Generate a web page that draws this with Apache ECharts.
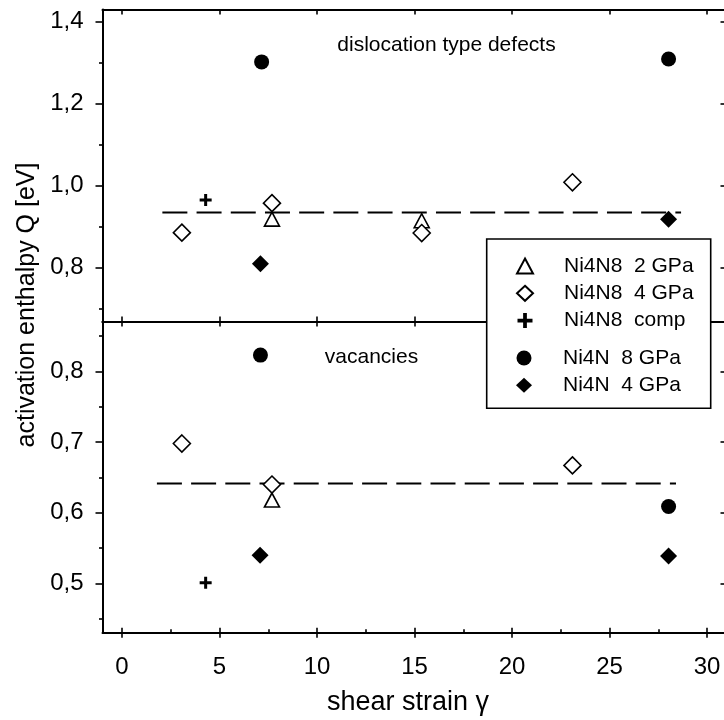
<!DOCTYPE html>
<html>
<head>
<meta charset="utf-8">
<script src="https://cdn.jsdelivr.net/npm/echarts@6/dist/echarts.min.js"></script>
<style>
  html, body { margin: 0; padding: 0; background: #fff; }
  #chart { width: 724px; height: 720px; }
</style>
</head>
<body>
<div id="chart"></div>
<script>
// ---- axis ticks ----
const strainTicks = [0, 5, 10, 15, 20, 25, 30];
const strainMinorTicks = [2.5, 7.5, 12.5, 17.5, 22.5, 27.5];
const dislTicks = [0.8, 1.0, 1.2, 1.4];
const dislMinorTicks = [0.7, 0.9, 1.1, 1.3];
const vacTicks = [0.5, 0.6, 0.7, 0.8];
const vacMinorTicks = [0.45, 0.55, 0.65, 0.75, 0.85];

// ---- sample names ----
const sampleNames = ['Ni4N8  2 GPa', 'Ni4N8  4 GPa', 'Ni4N8  comp', 'Ni4N  8 GPa', 'Ni4N  4 GPa'];

// ---- dislocation type defects: [shear strain, Q (eV)] ----
const dislNi4N8_2GPa = [[7.69, 0.918], [15.37, 0.914]];
const dislNi4N8_4GPa = [[3.07, 0.885], [7.69, 0.957], [15.37, 0.884], [23.1, 1.008]];
const dislNi4N8_comp = [[4.29, 0.965]];
const dislNi4N_8GPa = [[7.16, 1.302], [28.03, 1.309]];
const dislNi4N_4GPa = [[7.1, 0.809], [28.03, 0.918]];
const dislMean = [[2.07, 0.934], [28.67, 0.934]];

// ---- vacancies: [shear strain, Q (eV)] ----
const vacNi4N8_2GPa = [[7.69, 0.618]];
const vacNi4N8_4GPa = [[3.07, 0.698], [7.69, 0.640], [23.1, 0.667]];
const vacNi4N8_comp = [[4.29, 0.501]];
const vacNi4N_8GPa = [[7.1, 0.823], [28.03, 0.609]];
const vacNi4N_4GPa = [[7.08, 0.540], [28.03, 0.539]];
const vacMean = [[1.79, 0.6415], [28.41, 0.6415]];

const FONT = '"Liberation Sans", Arial, Helvetica, sans-serif';
const BLACK = '#000';
const PLUS = 'path://M4.5,0H7.5V4.5H12V7.5H7.5V12H4.5V7.5H0V4.5H4.5Z';
const comma = v => v.toFixed(1).replace('.', ',');

// symbol look of each sample
const markStyles = [
  { symbol: 'triangle', symbolSize: [15, 14], itemStyle: { color: '#fff', borderColor: BLACK, borderWidth: 1.6, opacity: 1 } },
  { symbol: 'diamond', symbolSize: [17, 17], itemStyle: { color: '#fff', borderColor: BLACK, borderWidth: 1.6, opacity: 1 } },
  { symbol: PLUS, symbolSize: 12, itemStyle: { color: BLACK, opacity: 1 } },
  { symbol: 'circle', symbolSize: 15, itemStyle: { color: BLACK, opacity: 1 } },
  { symbol: 'diamond', symbolSize: [17, 17], itemStyle: { color: BLACK, opacity: 1 } }
];

const xRange = { type: 'value', min: -1, max: 31, splitLine: { show: false } };
const axisLineOn = { show: true, onZero: false, lineStyle: { color: BLACK, width: 2 } };
const axisLineOff = { show: false, onZero: false };
const noLabel = { show: false };

function xAx(gridIndex, position, line, tick, label) {
  return Object.assign({}, xRange, {
    gridIndex, position,
    axisLine: line,
    axisTick: tick,
    axisLabel: label || noLabel
  });
}
function yAx(gridIndex, position, min, max, line, tick, label) {
  return {
    type: 'value', gridIndex, position, min, max,
    splitLine: { show: false },
    axisLine: line,
    axisTick: tick,
    axisLabel: label || noLabel
  };
}
const tickStyle = { color: BLACK, width: 1.6 };

const xLabel = {
  show: true, customValues: strainTicks, margin: 23,
  fontSize: 24, fontFamily: FONT, color: BLACK,
  formatter: v => String(v)
};

const xAxes = [
  // upper panel
  xAx(0, 'bottom', axisLineOn, { show: true, inside: true, length: 5, customValues: strainTicks, lineStyle: tickStyle }),
  xAx(0, 'top', axisLineOn, { show: true, inside: true, length: 5, customValues: strainTicks, lineStyle: tickStyle }),
  // lower panel
  xAx(1, 'top', axisLineOn, { show: true, inside: true, length: 5, customValues: strainTicks, lineStyle: tickStyle }),
  xAx(1, 'bottom', axisLineOn, { show: true, inside: true, length: 5, customValues: strainTicks, lineStyle: tickStyle }, xLabel),
  xAx(1, 'bottom', axisLineOff, { show: true, inside: false, length: 5, customValues: strainTicks, lineStyle: tickStyle }),
  xAx(1, 'bottom', axisLineOff, { show: true, inside: true, length: 3.5, customValues: strainMinorTicks, lineStyle: tickStyle })
];

function yLabel(ticks) {
  return {
    show: true, customValues: ticks, margin: 19,
    fontSize: 24, fontFamily: FONT, color: BLACK, formatter: comma
  };
}

const dislRange = [0.668, 1.43];
const vacRange = [0.4305, 0.8705];

const yAxes = [
  yAx(0, 'left', dislRange[0], dislRange[1], axisLineOn,
      { show: true, inside: false, length: 7, customValues: dislTicks, lineStyle: tickStyle }, yLabel(dislTicks)),
  yAx(0, 'left', dislRange[0], dislRange[1], axisLineOff,
      { show: true, inside: false, length: 3.5, customValues: dislMinorTicks, lineStyle: tickStyle }),
  yAx(0, 'right', dislRange[0], dislRange[1], axisLineOn,
      { show: true, inside: true, length: 6, customValues: dislTicks, lineStyle: tickStyle }),
  yAx(1, 'left', vacRange[0], vacRange[1], axisLineOn,
      { show: true, inside: false, length: 7, customValues: vacTicks, lineStyle: tickStyle }, yLabel(vacTicks)),
  yAx(1, 'left', vacRange[0], vacRange[1], axisLineOff,
      { show: true, inside: false, length: 3.5, customValues: vacMinorTicks, lineStyle: tickStyle }),
  yAx(1, 'right', vacRange[0], vacRange[1], axisLineOn,
      { show: true, inside: true, length: 6, customValues: vacTicks, lineStyle: tickStyle })
];

const dislSets = [dislNi4N8_2GPa, dislNi4N8_4GPa, dislNi4N8_comp, dislNi4N_8GPa, dislNi4N_4GPa];
const vacSets = [vacNi4N8_2GPa, vacNi4N8_4GPa, vacNi4N8_comp, vacNi4N_8GPa, vacNi4N_4GPa];

function meanLine(data, xi, yi) {
  return {
    type: 'line', data, xAxisIndex: xi, yAxisIndex: yi,
    symbol: 'none', silent: true, z: 1,
    lineStyle: { color: BLACK, width: 2, type: [25, 9.2] }
  };
}
function scatter(name, data, k, xi, yi) {
  return Object.assign({
    type: 'scatter', name, data, xAxisIndex: xi, yAxisIndex: yi, z: 3,
    emphasis: { disabled: true }
  }, markStyles[k]);
}

const series = [meanLine(dislMean, 0, 0), meanLine(vacMean, 3, 3)];
sampleNames.forEach((n, k) => {
  series.push(scatter(n, dislSets[k], k, 0, 0));
  series.push(scatter(n, vacSets[k], k, 3, 3));
});

const legendBase = {
  orient: 'vertical', left: 516, itemWidth: 16, itemHeight: 15, itemGap: 6.3,
  padding: 0, z: 101,
  textStyle: { fontSize: 21, fontFamily: FONT, color: BLACK, padding: [0, 0, 0, 26] }
};

const option = {
  animation: false,
  backgroundColor: '#fff',
  grid: [
    { left: 102.5, top: 9.5, width: 624, height: 312, outerBoundsMode: 'none', containLabel: false },
    { left: 102.5, top: 321.5, width: 624, height: 311.2, outerBoundsMode: 'none', containLabel: false }
  ],
  xAxis: xAxes,
  yAxis: yAxes,
  legend: [
    Object.assign({}, legendBase, { top: 255.5, data: sampleNames.slice(0, 3) }),
    Object.assign({}, legendBase, { top: 347.5, data: sampleNames.slice(3) })
  ],
  graphic: [
    {
      type: 'rect', z: 100,
      shape: { x: 486.7, y: 239, width: 224, height: 169.3 },
      style: { fill: '#fff', stroke: BLACK, lineWidth: 1.6 }
    },
    {
      type: 'text', x: 27, y: 305, rotation: Math.PI / 2, z: 50,
      style: { text: 'activation enthalpy Q [eV]', fontSize: 25, fontFamily: FONT, fill: BLACK, align: 'center', verticalAlign: 'middle' }
    },
    {
      type: 'text', x: 408, y: 703, z: 50,
      style: { text: 'shear strain γ', fontSize: 27, fontFamily: FONT, fill: BLACK, align: 'center', verticalAlign: 'middle' }
    },
    {
      type: 'text', x: 446.5, y: 45, z: 50,
      style: { text: 'dislocation type defects', fontSize: 21, fontFamily: FONT, fill: BLACK, align: 'center', verticalAlign: 'middle' }
    },
    {
      type: 'text', x: 371.5, y: 357, z: 50,
      style: { text: 'vacancies', fontSize: 21, fontFamily: FONT, fill: BLACK, align: 'center', verticalAlign: 'middle' }
    }
  ],
  series
};

const chart = echarts.init(document.getElementById('chart'), null, { renderer: 'canvas' });
chart.setOption(option);
</script>
</body>
</html>
